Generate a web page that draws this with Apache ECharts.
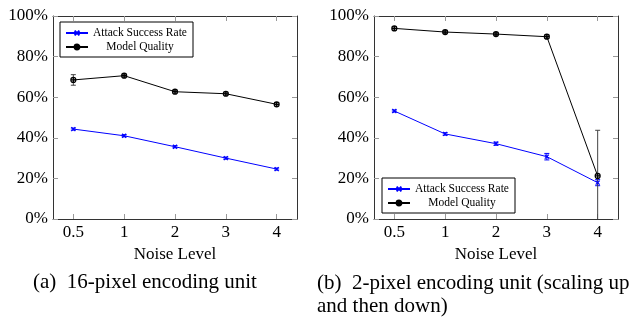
<!DOCTYPE html>
<html>
<head>
<meta charset="utf-8">
<script src="https://cdn.jsdelivr.net/npm/echarts@6.0.0/dist/echarts.min.js"></script>
<style>
    html, body { margin: 0; padding: 0; background: #fff; }
    #chart { width: 629px; height: 320px; }
</style>
</head>
<body>
<div id="chart"></div>
<script>
// x categories (noise level) and y ticks
const noiseLevels = ['0.5', '1', '2', '3', '4']
const yTicks = [0, 20, 40, 60, 80, 100]

// (a) 16-pixel encoding unit
const asrA = [44.3, 41.0, 35.6, 30.0, 24.6]
const asrErrA = [0.5, 0.5, 0.5, 0.5, 0.5]
const mqA = [68.5, 70.6, 62.7, 61.7, 56.5]
const mqErrA = [2.6, 0.7, 0.7, 0.7, 0.9]

// (b) 2-pixel encoding unit (scaling up and then down)
const asrB = [53.2, 41.9, 37.1, 30.7, 17.9]
const asrErrB = [0.5, 0.6, 0.8, 1.6, 1.5]
const mqB = [93.9, 92.1, 91.1, 89.8, 21.2]
const mqErrB = [0.8, 0.8, 0.8, 0.8, 22.5]

const FONT = '"Liberation Serif", "DejaVu Serif", serif'
const ASR_NAME = 'Attack Success Rate'
const MQ_NAME = 'Model Quality'
const BLUE = '#0000ff'
const BLACK = '#000000'
const tickIdx = noiseLevels.map((_, i) => i)

// markers: "x" for ASR, circle with a cross for MQ
const xMark = 'path://M0,0L10,10M10,0L0,10'
const oplusMark = 'path://M5,0A5,5,0,1,1,5,10A5,5,0,1,1,5,0ZM0,5L10,5M5,0L5,10'

function pairs(vals) {
    return vals.map((v, i) => [i, v])
}
function errRows(vals, errs) {
    // lower end clipped to the axis floor
    return vals.map((v, i) => [i, Math.max(0, v - errs[i]), v + errs[i]])
}

function errorBarRender(params, api) {
    const x = api.value(0)
    const loVal = api.value(1)
    const lo = api.coord([x, loVal])
    const hi = api.coord([x, api.value(2)])
    const color = api.visual('color')
    const cap = 2.5
    const style = { stroke: color, lineWidth: 1 }
    const children = [
        { type: 'line', shape: { x1: lo[0], y1: lo[1], x2: hi[0], y2: hi[1] }, style: style },
        { type: 'line', shape: { x1: hi[0] - cap, y1: hi[1], x2: hi[0] + cap, y2: hi[1] }, style: style }
    ]
    if (loVal > 0) {
        children.push({ type: 'line', shape: { x1: lo[0] - cap, y1: lo[1], x2: lo[0] + cap, y2: lo[1] }, style: style })
    }
    return { type: 'group', children: children }
}

// one bottom/top pair of x axes and left/right pair of y axes per panel
function xAxes(gridIndex) {
    const common = {
        type: 'value',
        gridIndex: gridIndex,
        min: -0.4,
        max: 4.4,
        splitLine: { show: false },
        axisLine: { onZero: false, lineStyle: { color: '#333', width: 1 } },
        axisTick: { inside: true, length: 5, customValues: tickIdx, lineStyle: { color: '#999' } }
    }
    return [
        Object.assign({}, common, {
            position: 'bottom',
            name: 'Noise Level',
            nameLocation: 'middle',
            nameGap: 23,
            nameTextStyle: { fontFamily: FONT, fontSize: 17, color: '#000' },
            axisLabel: {
                customValues: tickIdx,
                formatter: v => noiseLevels[Math.round(v)],
                fontFamily: FONT,
                fontSize: 17,
                color: '#000',
                margin: 5
            }
        }),
        Object.assign({}, common, { position: 'top', axisLabel: { show: false } })
    ]
}
function yAxes(gridIndex) {
    const common = {
        type: 'value',
        gridIndex: gridIndex,
        min: yTicks[0],
        max: yTicks[yTicks.length - 1],
        interval: 20,
        splitLine: { show: false },
        axisLine: { show: true, onZero: false, lineStyle: { color: '#333', width: 1 } },
        axisTick: { show: true, inside: true, length: 5, lineStyle: { color: '#999' } }
    }
    return [
        Object.assign({}, common, {
            position: 'left',
            axisLabel: { formatter: '{value}%', fontFamily: FONT, fontSize: 17, color: '#000', margin: 5 }
        }),
        Object.assign({}, common, { position: 'right', axisLabel: { show: false } })
    ]
}

function legendFor(left, top) {
    return {
        orient: 'vertical',
        left: left,
        top: top,
        data: [ASR_NAME, MQ_NAME],
        itemWidth: 22,
        itemHeight: 6,
        itemGap: 0,
        padding: [4, 6, 3, 5],
        borderColor: '#000',
        borderWidth: 1,
        borderRadius: 0,
        backgroundColor: '#fff',
        selectedMode: false,
        formatter: name => '{c|' + name + '}',
        textStyle: {
            rich: { c: { width: 94, height: 14, lineHeight: 14, align: 'center', fontFamily: FONT, fontSize: 11.5, color: '#000' } }
        }
    }
}

function panelSeries(k, asr, asrErr, mq, mqErr) {
    const xi = k * 2
    const yi = k * 2
    return [
        {
            type: 'custom', xAxisIndex: xi, yAxisIndex: yi, z: 1,
            renderItem: errorBarRender, itemStyle: { color: BLUE },
            encode: { x: 0, y: [1, 2] }, data: errRows(asr, asrErr)
        },
        {
            type: 'custom', xAxisIndex: xi, yAxisIndex: yi, z: 1,
            renderItem: errorBarRender, itemStyle: { color: '#444' },
            encode: { x: 0, y: [1, 2] }, data: errRows(mq, mqErr)
        },
        {
            name: ASR_NAME, type: 'line', xAxisIndex: xi, yAxisIndex: yi, z: 3,
            data: pairs(asr), symbol: xMark, symbolSize: 4, showSymbol: true,
            lineStyle: { color: BLUE, width: 1 },
            itemStyle: { color: BLUE, borderColor: BLUE, borderWidth: 1.2 },
            animation: false
        },
        {
            name: MQ_NAME, type: 'line', xAxisIndex: xi, yAxisIndex: yi, z: 3,
            data: pairs(mq), symbol: oplusMark, symbolSize: 5, showSymbol: true,
            lineStyle: { color: BLACK, width: 1 },
            itemStyle: { color: 'rgba(0,0,0,0)', borderColor: BLACK, borderWidth: 1.2 },
            animation: false
        }
    ]
}

const option = {
    animation: false,
    title: [
        {
            text: '(a)  16-pixel encoding unit',
            left: 33, top: 272, padding: 0,
            textStyle: { fontFamily: FONT, fontSize: 21, fontWeight: 'normal', color: '#000' }
        },
        {
            text: '(b)  2-pixel encoding unit (scaling up\nand then down)',
            left: 317, top: 272, padding: 0,
            textStyle: { fontFamily: FONT, fontSize: 21, fontWeight: 'normal', color: '#000', lineHeight: 23 }
        }
    ],
    grid: [
        { left: 53, top: 16, width: 244, height: 203 },
        { left: 374, top: 16, width: 244, height: 203 }
    ],
    legend: [legendFor(60, 22), legendFor(382, 178)],
    xAxis: xAxes(0).concat(xAxes(1)),
    yAxis: yAxes(0).concat(yAxes(1)),
    series: panelSeries(0, asrA, asrErrA, mqA, mqErrA).concat(panelSeries(1, asrB, asrErrB, mqB, mqErrB))
}

const chart = echarts.init(document.getElementById('chart'), null, { renderer: 'canvas' })
chart.setOption(option)
</script>
</body>
</html>
